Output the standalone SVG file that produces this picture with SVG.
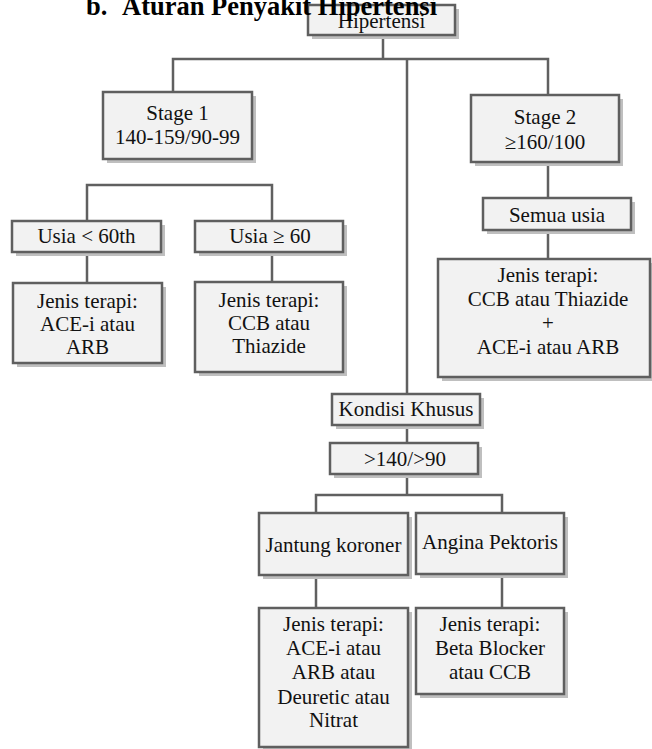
<svg xmlns="http://www.w3.org/2000/svg" width="652" height="749" viewBox="0 0 652 749">
<style>
.sh{fill:#bfbfbf}
.bx{fill:#f2f2f2;stroke:#5f5f5f;stroke-width:2.5}
.t{font-family:"Liberation Serif","Times New Roman",serif;font-size:21px;fill:#111;text-anchor:middle}
.c{fill:none;stroke:#606060;stroke-width:2.5;stroke-linecap:square}
.title{font-family:"Liberation Serif","Times New Roman",serif;font-size:26.5px;font-weight:bold;fill:#000}
</style>
<rect width="652" height="749" fill="#fff"/>
<g id="connectors">
<path class="c" d="M383 35V59M173 59H548M173 59V92M407 59V394M548 59V95"/>
<path class="c" d="M87 185H272M87 185V221M272 185V221M87 252V283M272 252V282"/>
<path class="c" d="M548 162V198M548 230V259"/>
<path class="c" d="M407 425V443M407 474V495M316 495H502M316 495V513M502 495V513M316 575V608M502 574V608"/>
</g>
<g id="hipertensi"><rect class="sh" x="312" y="9" width="147" height="30"/><rect class="bx" x="308" y="5" width="147" height="30"/><text class="t" x="381.5" y="28">Hipertensi</text></g>
<g id="stage1"><rect class="sh" x="107" y="96" width="149" height="67"/><rect class="bx" x="103" y="92" width="149" height="67"/><text class="t" x="177.5" y="120">Stage 1</text><text class="t" x="177.5" y="144">140-159/90-99</text></g>
<g id="stage2"><rect class="sh" x="475" y="99" width="148" height="67"/><rect class="bx" x="471" y="95" width="148" height="67"/><text class="t" x="545" y="124">Stage 2</text><text class="t" x="545" y="149">≥160/100</text></g>
<g id="usia-lt60"><rect class="sh" x="16" y="225" width="149" height="31"/><rect class="bx" x="12" y="221" width="149" height="31"/><text class="t" x="86.5" y="243">Usia &lt; 60th</text></g>
<g id="usia-ge60"><rect class="sh" x="199" y="225" width="148" height="31"/><rect class="bx" x="195" y="221" width="148" height="31"/><text class="t" x="270" y="243">Usia ≥ 60</text></g>
<g id="semua-usia"><rect class="sh" x="487" y="202" width="148" height="32"/><rect class="bx" x="483" y="198" width="148" height="32"/><text class="t" x="557" y="222">Semua usia</text></g>
<g id="terapi1"><rect class="sh" x="17" y="287" width="149" height="80"/><rect class="bx" x="13" y="283" width="149" height="80"/><text class="t" x="87.5" y="308">Jenis terapi:</text><text class="t" x="87.5" y="331">ACE-i atau</text><text class="t" x="87.5" y="354">ARB</text></g>
<g id="terapi2"><rect class="sh" x="199" y="286" width="148" height="90"/><rect class="bx" x="195" y="282" width="148" height="90"/><text class="t" x="269" y="307">Jenis terapi:</text><text class="t" x="269" y="330">CCB atau</text><text class="t" x="269" y="353">Thiazide</text></g>
<g id="terapi3"><rect class="sh" x="442" y="263" width="212" height="118"/><rect class="bx" x="438" y="259" width="212" height="118"/><text class="t" x="548" y="282">Jenis terapi:</text><text class="t" x="548" y="306">CCB atau Thiazide</text><text class="t" x="548" y="330">+</text><text class="t" x="548" y="354">ACE-i atau ARB</text></g>
<g id="kondisi"><rect class="sh" x="336" y="398" width="148" height="31"/><rect class="bx" x="332" y="394" width="148" height="31"/><text class="t" x="406" y="416">Kondisi Khusus</text></g>
<g id="gt140"><rect class="sh" x="334" y="447" width="148" height="31"/><rect class="bx" x="330" y="443" width="148" height="31"/><text class="t" x="405" y="466">&gt;140/&gt;90</text></g>
<g id="jantung"><rect class="sh" x="263" y="517" width="149" height="62"/><rect class="bx" x="259" y="513" width="149" height="62"/><text class="t" x="333.5" y="552">Jantung koroner</text></g>
<g id="angina"><rect class="sh" x="420" y="517" width="148" height="61"/><rect class="bx" x="416" y="513" width="148" height="61"/><text class="t" x="490" y="549">Angina Pektoris</text></g>
<g id="terapi4"><rect class="sh" x="263" y="612" width="149" height="139"/><rect class="bx" x="259" y="608" width="149" height="139"/><text class="t" x="333.5" y="631">Jenis terapi:</text><text class="t" x="333.5" y="655">ACE-i atau</text><text class="t" x="333.5" y="679">ARB atau</text><text class="t" x="333.5" y="704">Deuretic atau</text><text class="t" x="333.5" y="727">Nitrat</text></g>
<g id="terapi5"><rect class="sh" x="420" y="612" width="148" height="86"/><rect class="bx" x="416" y="608" width="148" height="86"/><text class="t" x="490" y="631">Jenis terapi:</text><text class="t" x="490" y="655">Beta Blocker</text><text class="t" x="490" y="679">atau CCB</text></g>
<g id="title"><text class="title" x="86" y="15">b.</text><text class="title" x="122" y="15">Aturan Penyakit Hipertensi</text></g>
</svg>
